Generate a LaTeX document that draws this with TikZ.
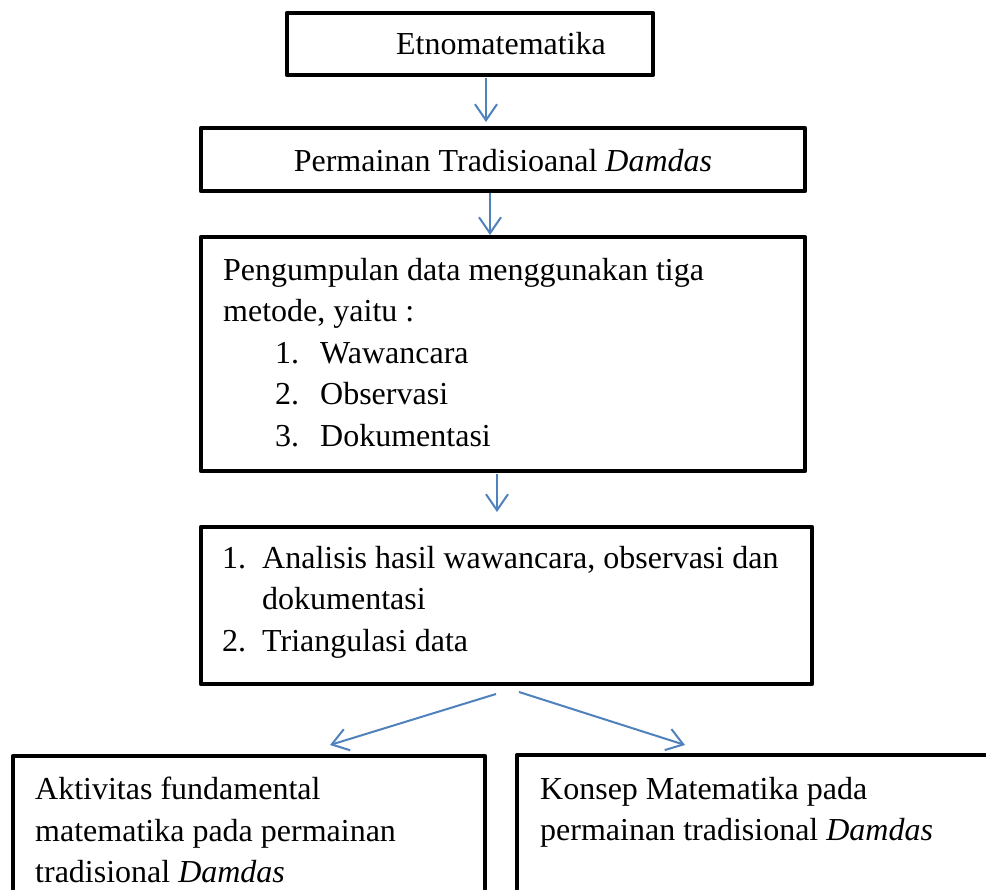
\documentclass[tikz,border=0pt]{standalone}
\usepackage{fontspec}
\setmainfont{Liberation Serif}
\usetikzlibrary{arrows.meta,positioning,calc}
\definecolor{arrowblue}{RGB}{79,129,189}

\begin{document}
\begin{tikzpicture}[
    x=1pt, y=-1pt,
    box/.style={rectangle, draw, line width=4.5pt, line join=round, outer sep=0pt, inner sep=0pt},
    txt/.style={inner sep=0pt, align=left, font=\fontsize{32}{41.5}\selectfont},
    flow/.style={draw=arrowblue, line width=2pt, -{Straight Barb[length=16pt,width=22pt]}}
]
    \clip (0,0) rectangle (986,890);
    \fill [white] (0,0) rectangle (986,890);

    % Boxes
    \node [box, minimum width=366pt, minimum height=62pt] (etno) at (470,44) {};
    \node [box, minimum width=604pt, minimum height=63pt] (game) at (503,159.5) {};
    \node [box, minimum width=604pt, minimum height=234pt] (data) at (503,354) {};
    \node [box, minimum width=611pt, minimum height=157pt] (anal) at (506.5,605.5) {};
    \node [box, minimum width=472pt, minimum height=260pt] (act) at (249,886) {};
    \node [box, minimum width=600pt, minimum height=260pt] (konsep) at (817,885) {};

    % Texts
    \node [txt, anchor=base] (etnotxt) at (501,55) {Etnomatematika};
    \node [txt, anchor=base] (gametxt) at (503,172) {Permainan Tradisioanal \textit{Damdas}};
    \node [txt, anchor=north west] (datatxt) at (223,258) {Pengumpulan data menggunakan tiga\\
        metode, yaitu :\\
        \hspace*{52pt}\makebox[45pt][l]{1.}Wawancara\\
        \hspace*{52pt}\makebox[45pt][l]{2.}Observasi\\
        \hspace*{52pt}\makebox[45pt][l]{3.}Dokumentasi};
    \node [txt, anchor=north west] (analtxt) at (222,546) {\makebox[40pt][l]{1.}Analisis hasil wawancara, observasi dan\\
        \hspace*{40pt}dokumentasi\\
        \makebox[40pt][l]{2.}Triangulasi data};
    \node [txt, anchor=north west] (acttxt) at (35,777) {Aktivitas fundamental\\
        matematika pada permainan\\
        tradisional \textit{Damdas}};
    \node [txt, anchor=north west] (konseptxt) at (540,777) {Konsep Matematika pada\\
        permainan tradisional \textit{Damdas}};

    % Connections
    \draw [flow] ([xshift=16pt,yshift=-3pt]etno.south) -- ([xshift=-17pt,yshift=6pt]game.north);
    \draw [flow] ([xshift=-13pt,yshift=-2pt]game.south) -- ([xshift=-13pt,yshift=2pt]data.north);
    \draw [flow] ([xshift=-6pt,yshift=-3pt]data.south) -- ([xshift=-9.5pt,yshift=15pt]anal.north);
    \draw [flow] ([xshift=-10.5pt,yshift=-10pt]anal.south) -- ([xshift=81pt,yshift=11pt]act.north);
    \draw [flow] ([xshift=12.5pt,yshift=-8pt]anal.south) -- ([xshift=-132pt,yshift=10pt]konsep.north);

\end{tikzpicture}
\end{document}
